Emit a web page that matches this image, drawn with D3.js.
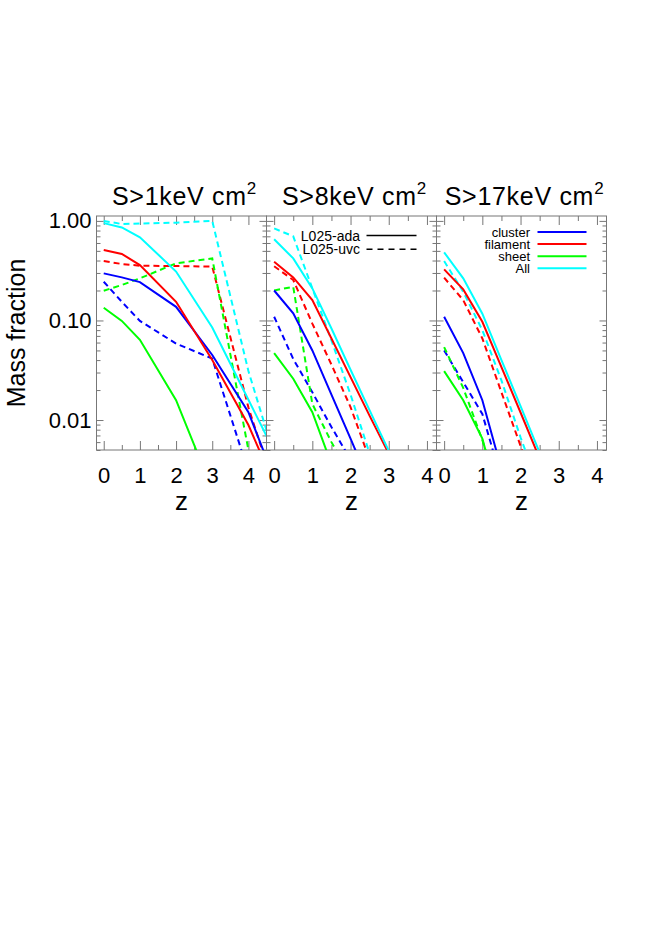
<!DOCTYPE html>
<html>
<head>
<meta charset="utf-8">
<script src="https://cdn.jsdelivr.net/npm/d3@7"></script>
<style>
  body { margin: 0; background: #fff; }
  text { font-family: "Liberation Sans", Arial, Helvetica, sans-serif; fill: #000; }
</style>
</head>
<body>
<div id="chart"></div>
<script>
// redshift grids of each panel
var zPanel1 = [0, 0.5, 1, 2, 3, 4, 5];
var zPanel2 = [0, 0.5, 1, 1.5, 2, 2.5, 3, 3.5];
var zPanel3 = [0, 0.5, 1, 1.5, 2, 2.5, 3];

// S > 1 keV cm^2
var p1ClusterAda  = [0.297, 0.271, 0.243, 0.137, 0.045, 0.012, 0.0014];
var p1FilamentAda = [0.51, 0.466, 0.36, 0.154, 0.04, 0.0089, 0.0013];
var p1SheetAda    = [0.134, 0.099, 0.064, 0.0158, 0.002, 0.0003, 0.00005];
var p1AllAda      = [0.95, 0.86, 0.685, 0.31, 0.085, 0.016, 0.003];
var p1ClusterUvc  = [0.245, 0.154, 0.099, 0.0586, 0.0414, 0.003, 0.0005];
var p1FilamentUvc = [0.395, 0.369, 0.355, 0.352, 0.347, 0.0134, 0.001];
var p1SheetUvc    = [0.199, 0.227, 0.265, 0.375, 0.42, 0.005, 0.0005];
var p1AllUvc      = [1.0, 0.93, 0.94, 0.96, 1.0, 0.031, 0.002];

// S > 8 keV cm^2
var p2ClusterAda  = [0.20, 0.118, 0.05, 0.018, 0.0065, 0.0023, 0.0008, 0.0003];
var p2FilamentAda = [0.389, 0.271, 0.16, 0.066, 0.027, 0.011, 0.0046, 0.0019];
var p2SheetAda    = [0.047, 0.026, 0.012, 0.0036, 0.001, 0.0003, 0.0001, 0.00003];
var p2AllAda      = [0.654, 0.42, 0.21, 0.083, 0.032, 0.0125, 0.0049, 0.0019];
var p2ClusterUvc  = [0.109, 0.041, 0.019, 0.0085, 0.004, 0.0018, 0.0008, 0.0003];
var p2FilamentUvc = [0.35, 0.255, 0.093, 0.036, 0.0135, 0.004, 0.0012, 0.0004];
var p2SheetUvc    = [0.2, 0.218, 0.0145, 0.006, 0.0027, 0.001, 0.0004, 0.0001];
var p2AllUvc      = [0.84, 0.70, 0.21, 0.063, 0.018, 0.0046, 0.0012, 0.0003];

// S > 17 keV cm^2
var p3ClusterAda  = [0.109, 0.047, 0.0158, 0.0032, 0.0006, 0.0001, 0.00002];
var p3FilamentAda = [0.326, 0.205, 0.097, 0.034, 0.0119, 0.0041, 0.0014];
var p3SheetAda    = [0.031, 0.0158, 0.0065, 0.0013, 0.0003, 0.00006, 0.00001];
var p3AllAda      = [0.483, 0.265, 0.117, 0.04, 0.0138, 0.0047, 0.0016];
var p3ClusterUvc  = [0.05, 0.024, 0.0115, 0.0025, 0.0006, 0.0001, 0.00002];
var p3FilamentUvc = [0.269, 0.16, 0.066, 0.019, 0.0055, 0.0016, 0.0005];
var p3SheetUvc    = [0.054, 0.021, 0.0063, 0.0015, 0.0004, 0.0001, 0.00002];
var p3AllUvc      = [0.395, 0.194, 0.08, 0.025, 0.0067, 0.002, 0.0006];

var panelTitles = ["S>1keV cm", "S>8keV cm", "S>17keV cm"];
var xTickValues = [0, 1, 2, 3, 4];
var yTickValues = [1, 0.1, 0.01];
var yTickLabels = ["1.00", "0.10", "0.01"];
var categoryNames = ["cluster", "filament", "sheet", "All"];
var categoryColors = ["#0000ff", "#ff0000", "#00ff00", "#00ffff"];
var runNames = ["L025-ada", "L025-uvc"];

var panels = [
    {title: panelTitles[0], z: zPanel1, xMax: 4.5,
     ada: [p1ClusterAda, p1FilamentAda, p1SheetAda, p1AllAda],
     uvc: [p1ClusterUvc, p1FilamentUvc, p1SheetUvc, p1AllUvc]},
    {title: panelTitles[1], z: zPanel2, xMax: 4.25,
     ada: [p2ClusterAda, p2FilamentAda, p2SheetAda, p2AllAda],
     uvc: [p2ClusterUvc, p2FilamentUvc, p2SheetUvc, p2AllUvc]},
    {title: panelTitles[2], z: zPanel3, xMax: 4.25,
     ada: [p3ClusterAda, p3FilamentAda, p3SheetAda, p3AllAda],
     uvc: [p3ClusterUvc, p3FilamentUvc, p3SheetUvc, p3AllUvc]}
];

var svgWidth = 665, svgHeight = 940;
var left0 = 96.5, top0 = 216;
var panelWidth = 170, panelHeight = 234;
var axisColor = "#777";

var svg = d3.select("#chart").append("svg")
    .attr("width", svgWidth)
    .attr("height", svgHeight);

var y = d3.scaleLog().domain([0.005, 1.12]).range([panelHeight, 0]);

// minor log ticks 2..9 of every decade inside the domain
var yMinor = [];
[0.001, 0.01, 0.1, 1].forEach(function (dec) {
    for (var k = 2; k <= 9; k++) {
        var v = dec * k;
        if (v >= y.domain()[0] && v <= y.domain()[1]) yMinor.push(v);
    }
});

function styleAxis(g) {
    g.select(".domain").remove();
    g.selectAll("line").attr("stroke", axisColor);
    g.selectAll("text").attr("font-size", 22).attr("fill", "#000")
        .attr("font-family", '"Liberation Sans", Arial, sans-serif');
}

panels.forEach(function (p, i) {
    var x = d3.scaleLinear().domain([-0.2, p.xMax]).range([0, panelWidth]);
    var xMinor = d3.range(0.5, p.xMax, 1);

    var g = svg.append("g")
        .attr("transform", "translate(" + (left0 + i * panelWidth) + "," + top0 + ")");

    g.append("clipPath").attr("id", "clip" + i)
        .append("rect").attr("width", panelWidth).attr("height", panelHeight);

    // axes, ticks pointing inward
    g.append("g").attr("transform", "translate(0," + panelHeight + ")")
        .call(d3.axisBottom(x).tickValues(xTickValues).tickFormat(d3.format("d"))
            .tickSizeInner(-9).tickSizeOuter(0).tickPadding(17))
        .call(styleAxis);
    g.append("g").attr("transform", "translate(0," + panelHeight + ")")
        .call(d3.axisBottom(x).tickValues(xMinor).tickFormat("").tickSizeInner(-5).tickSizeOuter(0))
        .call(styleAxis);
    g.append("g")
        .call(d3.axisTop(x).tickValues(xTickValues).tickFormat("").tickSizeInner(-9).tickSizeOuter(0))
        .call(styleAxis);
    g.append("g")
        .call(d3.axisTop(x).tickValues(xMinor).tickFormat("").tickSizeInner(-5).tickSizeOuter(0))
        .call(styleAxis);

    g.append("g")
        .call(d3.axisLeft(y).tickValues(yTickValues)
            .tickFormat(function (d, j) { return i === 0 ? yTickLabels[j] : ""; })
            .tickSizeInner(-7).tickSizeOuter(0).tickPadding(5))
        .call(styleAxis);
    g.append("g")
        .call(d3.axisLeft(y).tickValues(yMinor).tickFormat("").tickSizeInner(-4).tickSizeOuter(0))
        .call(styleAxis);
    g.append("g").attr("transform", "translate(" + panelWidth + ",0)")
        .call(d3.axisRight(y).tickValues(yTickValues).tickFormat("").tickSizeInner(-7).tickSizeOuter(0))
        .call(styleAxis);
    g.append("g").attr("transform", "translate(" + panelWidth + ",0)")
        .call(d3.axisRight(y).tickValues(yMinor).tickFormat("").tickSizeInner(-4).tickSizeOuter(0))
        .call(styleAxis);

    g.append("rect")
        .attr("width", panelWidth).attr("height", panelHeight)
        .attr("fill", "none").attr("stroke", axisColor).attr("stroke-width", 1);

    // curves
    var line = d3.line()
        .x(function (d) { return x(d[0]); })
        .y(function (d) { return y(d[1]); });

    var curves = g.append("g").attr("clip-path", "url(#clip" + i + ")");
    [["uvc", "6,4"], ["ada", null]].forEach(function (run) {
        p[run[0]].forEach(function (vals, c) {
            curves.append("path")
                .datum(d3.zip(p.z, vals))
                .attr("d", line)
                .attr("fill", "none")
                .attr("stroke", categoryColors[c])
                .attr("stroke-width", 2)
                .attr("stroke-dasharray", run[1]);
        });
    });

    // title
    var t = g.append("text")
        .attr("x", panelWidth / 2 + 3).attr("y", -11)
        .attr("text-anchor", "middle")
        .attr("font-size", 25)
        .attr("letter-spacing", 0.7);
    t.append("tspan").text(p.title);
    t.append("tspan").attr("font-size", 17).attr("dy", -11).text("2");

    // x label
    g.append("text")
        .attr("x", panelWidth / 2).attr("y", panelHeight + 60)
        .attr("text-anchor", "middle")
        .attr("font-size", 26)
        .text("z");
});

// y label
svg.append("text")
    .attr("transform", "translate(25," + (top0 + 117) + ") rotate(-90)")
    .attr("text-anchor", "middle")
    .attr("font-size", 25)
    .text("Mass fraction");

// run legend (panel 2)
var runLegend = svg.append("g")
    .attr("transform", "translate(" + (left0 + panelWidth) + "," + top0 + ")");
runNames.forEach(function (name, k) {
    var ly = 19.5 + k * 13.7;
    runLegend.append("text")
        .attr("x", 93.5).attr("y", ly + 5)
        .attr("text-anchor", "end").attr("font-size", 14)
        .text(name);
    runLegend.append("line")
        .attr("x1", 100).attr("x2", 150).attr("y1", ly).attr("y2", ly)
        .attr("stroke", "#000").attr("stroke-width", 1.5)
        .attr("stroke-dasharray", k === 0 ? null : "6,5");
});

// category legend (panel 3)
var catLegend = svg.append("g")
    .attr("transform", "translate(" + (left0 + 2 * panelWidth) + "," + top0 + ")");
categoryNames.forEach(function (name, k) {
    var ly = 16 + k * 12.1;
    catLegend.append("text")
        .attr("x", 93.5).attr("y", ly + 4.5)
        .attr("text-anchor", "end").attr("font-size", 13)
        .text(name);
    catLegend.append("line")
        .attr("x1", 101).attr("x2", 150).attr("y1", ly).attr("y2", ly)
        .attr("stroke", categoryColors[k]).attr("stroke-width", 2);
});
</script>
</body>
</html>
